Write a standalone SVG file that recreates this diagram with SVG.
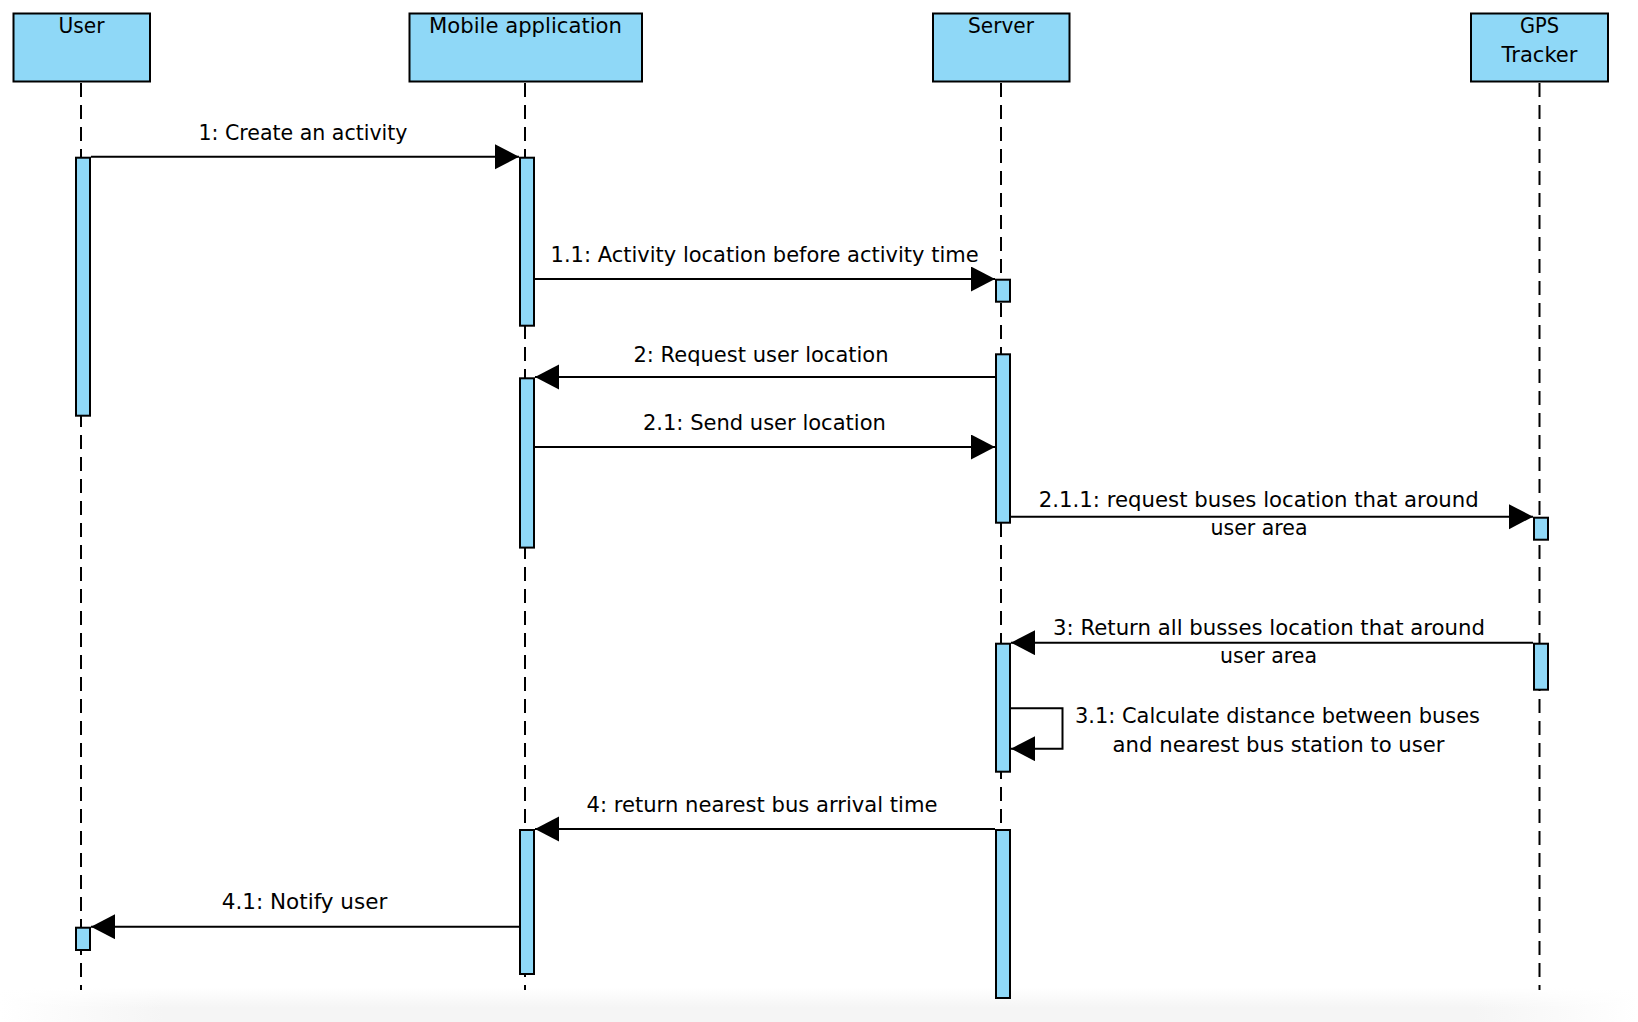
<svg xmlns="http://www.w3.org/2000/svg" width="1638" height="1022" viewBox="0 0 1638 1022">
<style>
  .box { fill: #8fd8f7; stroke: #000; stroke-width: 2; }
  .act { fill: #8fd8f7; stroke: #000; stroke-width: 2; }
  .life { stroke: #000; stroke-width: 2; stroke-dasharray: 14 8; fill: none; }
  .msg { stroke: #000; stroke-width: 2; fill: none; marker-end: url(#arrow); }
  text { font-family: "DejaVu Sans", "Liberation Sans", sans-serif; font-size: 21.5px; fill: #000; text-anchor: middle; }
</style>
<defs>
  <marker id="arrow" markerUnits="userSpaceOnUse" markerWidth="25" markerHeight="26" refX="24" refY="12.5" orient="auto" viewBox="0 0 25 26">
    <path d="M0,0 L24,12.5 L0,25 Z" fill="#000"/>
  </marker>
  <linearGradient id="bandH" x1="0" y1="0" x2="1" y2="0">
    <stop offset="0" stop-color="#f5f5f5" stop-opacity="0"/>
    <stop offset="0.1" stop-color="#f5f5f5" stop-opacity="1"/>
    <stop offset="0.9" stop-color="#f5f5f5" stop-opacity="1"/>
    <stop offset="1" stop-color="#f5f5f5" stop-opacity="0"/>
  </linearGradient>
  <linearGradient id="bandV" x1="0" y1="0" x2="0" y2="1">
    <stop offset="0" stop-color="#fff" stop-opacity="1"/>
    <stop offset="0.6" stop-color="#fff" stop-opacity="0"/>
  </linearGradient>
</defs>
<rect x="0" y="0" width="1638" height="1022" fill="#fff"/>
<g id="bottom-band">
  <rect x="0" y="988" width="1638" height="34" fill="url(#bandH)"/>
  <rect x="0" y="988" width="1638" height="34" fill="url(#bandV)"/>
</g>

<g id="lifelines">
  <line class="life" x1="81" y1="83" x2="81" y2="990"/>
  <line class="life" x1="525" y1="83" x2="525" y2="990"/>
  <line class="life" x1="1001" y1="83" x2="1001" y2="990"/>
  <line class="life" x1="1539.5" y1="83" x2="1539.5" y2="990"/>
</g>

<g id="node-user">
  <rect class="box" x="13.5" y="13.5" width="136.5" height="68"/>
  <text x="81.5" y="33.3" textLength="46" lengthAdjust="spacingAndGlyphs">User</text>
</g>
<g id="node-mobile">
  <rect class="box" x="409.5" y="13.5" width="232.5" height="68"/>
  <text x="525.5" y="33.3" textLength="193" lengthAdjust="spacingAndGlyphs">Mobile application</text>
</g>
<g id="node-server">
  <rect class="box" x="933" y="13.5" width="136.5" height="68"/>
  <text x="1001" y="33.3" textLength="66" lengthAdjust="spacingAndGlyphs">Server</text>
</g>
<g id="node-gps">
  <rect class="box" x="1471" y="13.5" width="137" height="68"/>
  <text x="1539.5" y="33.3" textLength="39" lengthAdjust="spacingAndGlyphs">GPS</text>
  <text x="1539.5" y="62" textLength="76" lengthAdjust="spacingAndGlyphs">Tracker</text>
</g>

<g id="activations">
  <rect class="act" x="76" y="157.7" width="14" height="258"/>
  <rect class="act" x="76" y="927.7" width="14" height="22.3"/>
  <rect class="act" x="520" y="157.7" width="14" height="168"/>
  <rect class="act" x="520" y="378.3" width="14" height="169.3"/>
  <rect class="act" x="520" y="830" width="14" height="144"/>
  <rect class="act" x="996" y="279.7" width="14" height="22"/>
  <rect class="act" x="996" y="354.3" width="14" height="168.4"/>
  <rect class="act" x="996" y="643.7" width="14" height="128"/>
  <rect class="act" x="996" y="830" width="14" height="168"/>
  <rect class="act" x="1534" y="517.7" width="14" height="22"/>
  <rect class="act" x="1534" y="643.7" width="14" height="46"/>
</g>

<g id="connectors">
  <line class="msg" x1="91" y1="156.7" x2="519" y2="156.7"/>
  <line class="msg" x1="535" y1="279" x2="995" y2="279"/>
  <line class="msg" x1="995" y1="377" x2="535" y2="377"/>
  <line class="msg" x1="535" y1="447" x2="995" y2="447"/>
  <line class="msg" x1="1011" y1="516.7" x2="1533" y2="516.7"/>
  <line class="msg" x1="1533" y1="642.7" x2="1011" y2="642.7"/>
  <path class="msg" d="M1011,708.3 H1062.5 V748.7 H1011"/>
  <line class="msg" x1="995" y1="829" x2="535" y2="829"/>
  <line class="msg" x1="519" y1="926.7" x2="91" y2="926.7"/>
</g>

<g id="labels">
  <text x="303" y="139.5" textLength="209" lengthAdjust="spacingAndGlyphs">1: Create an activity</text>
  <text x="764.6" y="261.7" textLength="428" lengthAdjust="spacingAndGlyphs">1.1: Activity location before activity time</text>
  <text x="761" y="361.7" textLength="255" lengthAdjust="spacingAndGlyphs">2: Request user location</text>
  <text x="764.4" y="430" textLength="243" lengthAdjust="spacingAndGlyphs">2.1: Send user location</text>
  <text x="1258.8" y="506.7" textLength="440" lengthAdjust="spacingAndGlyphs">2.1.1: request buses location that around</text>
  <text x="1259" y="535" textLength="97" lengthAdjust="spacingAndGlyphs">user area</text>
  <text x="1269" y="635" textLength="432" lengthAdjust="spacingAndGlyphs">3: Return all busses location that around</text>
  <text x="1268.5" y="663.3" textLength="97" lengthAdjust="spacingAndGlyphs">user area</text>
  <text x="1277.5" y="723.3" textLength="405" lengthAdjust="spacingAndGlyphs">3.1: Calculate distance between buses</text>
  <text x="1278.6" y="751.7" textLength="332" lengthAdjust="spacingAndGlyphs">and nearest bus station to user</text>
  <text x="762" y="811.7" textLength="351" lengthAdjust="spacingAndGlyphs">4: return nearest bus arrival time</text>
  <text x="304.5" y="909.3" textLength="165.5" lengthAdjust="spacingAndGlyphs">4.1: Notify user</text>
</g>
</svg>
